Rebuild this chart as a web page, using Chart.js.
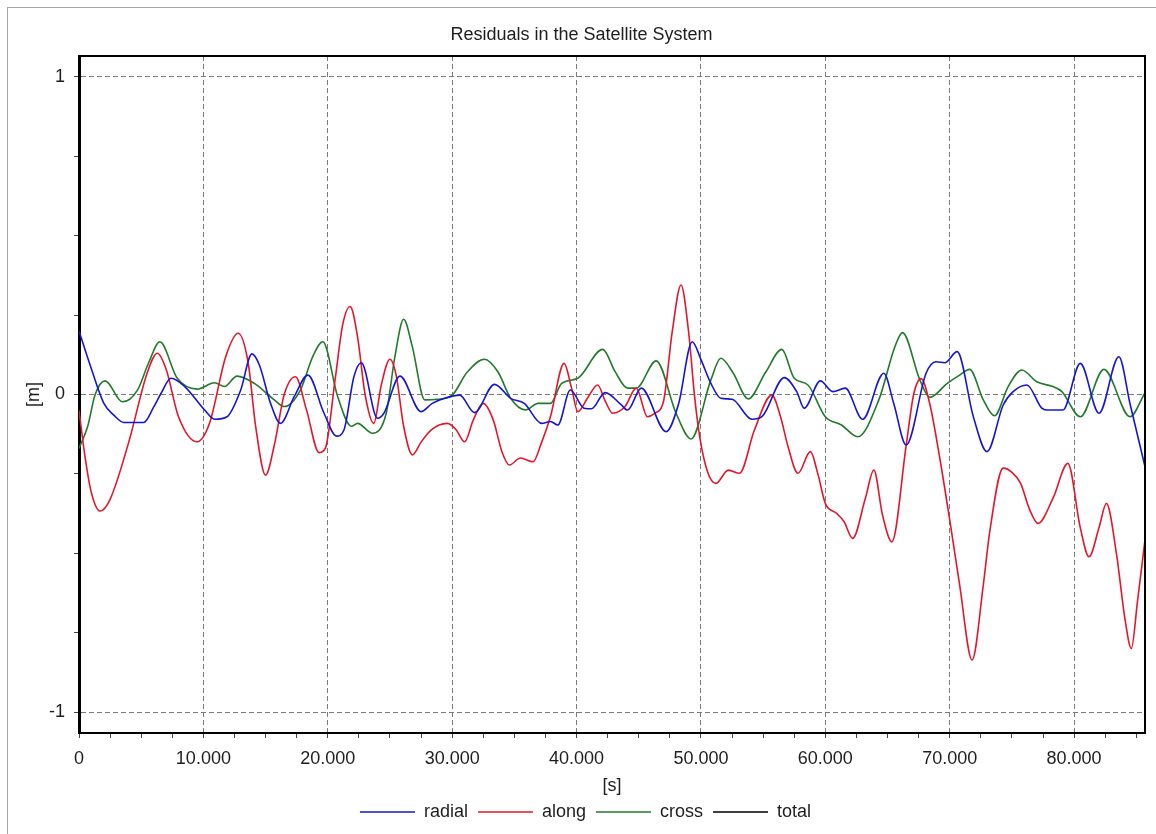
<!DOCTYPE html>
<html>
<head>
<meta charset="utf-8">
<script src="https://cdn.jsdelivr.net/npm/chart.js@4/dist/chart.umd.min.js"></script>
<style>
  html, body { margin: 0; padding: 0; background: #ffffff; }
  #wrap { position: relative; width: 1156px; height: 834px; overflow: hidden; background: #ffffff; }
  #frame { position: absolute; left: 7px; top: 7px; right: -2px; bottom: -2px; border-left: 1px solid #a6a6a6; border-top: 1px solid #a6a6a6; }
  canvas { position: absolute; left: 0; top: 0; }
</style>
</head>
<body>
<div id="wrap">
  <div id="frame"></div>
  <canvas id="c" width="1156" height="834"></canvas>
</div>
<script>
// ---- data (x in seconds, y in metres) ----
const chartTitle = 'Residuals in the Satellite System';
const seriesNames = ['radial', 'along', 'cross', 'total'];
const seriesColors = ['#1616d0', '#e4162c', '#237a2b', '#000000'];

const radialX = [0, 1000, 2000, 2800, 3600, 5200, 6000, 6600, 7400, 8500, 10100, 10900, 11900, 13000, 13900, 14500, 15400, 16200, 17300, 18400, 19700, 20700, 21300, 22100, 22700, 24000, 24500, 25800, 27500, 28400, 29400, 30600, 31800, 33400, 34700, 35800, 37200, 37900, 38500, 39500, 40600, 41200, 42300, 43600, 44100, 45200, 47200, 48200, 49300, 50000, 50800, 51600, 52500, 54100, 54900, 56700, 57700, 58300, 59600, 60600, 61600, 63000, 64700, 65500, 66500, 68100, 68900, 69600, 70600, 71900, 73000, 74300, 75100, 76200, 77400, 77800, 79100, 80500, 82000, 83600, 84500, 85700];
const radialY = [0.2, 0.08, -0.028, -0.065, -0.088, -0.088, -0.04, 0.004, 0.051, 0.025, -0.049, -0.078, -0.07, 0.014, 0.128, 0.093, -0.028, -0.091, -0.007, 0.061, -0.059, -0.131, -0.112, 0.056, 0.1, -0.075, -0.06, 0.058, -0.054, -0.028, -0.012, -0.002, -0.057, 0.032, -0.012, -0.028, -0.091, -0.085, -0.096, 0.014, -0.043, -0.045, 0.006, -0.033, -0.049, 0.02, -0.117, -0.03, 0.166, 0.11, 0.035, -0.012, -0.015, -0.078, -0.07, 0.053, 0.009, -0.043, 0.043, 0.009, 0.02, -0.078, 0.067, -0.028, -0.159, 0.067, 0.103, 0.1, 0.135, -0.07, -0.18, -0.033, 0.009, 0.03, -0.043, -0.049, -0.049, 0.098, -0.059, 0.119, -0.03, -0.227];

const alongX = [0, 500, 1000, 1700, 2500, 4000, 5500, 6300, 7000, 8000, 9500, 10500, 11800, 12800, 13600, 14200, 15000, 15700, 16500, 17400, 18300, 19300, 19800, 20600, 21200, 21800, 22400, 23000, 23700, 24300, 25000, 25500, 26100, 26800, 27500, 28300, 29600, 30300, 31000, 31700, 32500, 33300, 34000, 34600, 35500, 36500, 37200, 37900, 39000, 39600, 40100, 40900, 41700, 42300, 42900, 43900, 44800, 45700, 46300, 47000, 47700, 48400, 49000, 49500, 49900, 50500, 51200, 52200, 53100, 54300, 55700, 56400, 57000, 57800, 58800, 59400, 60000, 60900, 61500, 62200, 63200, 63900, 64600, 65350, 66500, 67100, 67700, 68400, 69200, 70000, 70800, 71800, 72700, 73200, 74300, 75000, 75700, 76400, 77100, 78300, 79500, 80500, 81200, 82000, 82600, 83400, 84100, 84600, 85100, 85700];
const alongY = [-0.05, -0.2, -0.31, -0.367, -0.33, -0.15, 0.07, 0.13, 0.08, -0.07, -0.149, -0.09, 0.12, 0.193, 0.1, -0.1, -0.254, -0.16, 0.0, 0.056, -0.05, -0.183, -0.17, 0.05, 0.22, 0.277, 0.18, 0.0, -0.091, 0.03, 0.111, 0.06, -0.1, -0.19, -0.15, -0.112, -0.091, -0.11, -0.149, -0.08, -0.028, -0.08, -0.18, -0.222, -0.2, -0.212, -0.15, -0.07, 0.098, 0.02, -0.054, -0.01, 0.03, -0.02, -0.059, -0.038, 0.02, -0.07, -0.059, -0.02, 0.2, 0.345, 0.2, -0.01, -0.133, -0.24, -0.28, -0.238, -0.248, -0.112, -0.002, -0.07, -0.164, -0.248, -0.18, -0.25, -0.343, -0.374, -0.4, -0.453, -0.33, -0.238, -0.38, -0.464, -0.16, 0.0, 0.05, -0.03, -0.2, -0.395, -0.6, -0.836, -0.6, -0.437, -0.232, -0.245, -0.28, -0.36, -0.406, -0.327, -0.217, -0.42, -0.511, -0.42, -0.343, -0.5, -0.71, -0.8, -0.65, -0.458];

const crossX = [0, 700, 1300, 2100, 3500, 4700, 5600, 6500, 7900, 9500, 10900, 11700, 12700, 14100, 15700, 16500, 17800, 18800, 19600, 20800, 21900, 22400, 23600, 24700, 25400, 26100, 26800, 27800, 28800, 30000, 31200, 32600, 33700, 34700, 35900, 36900, 37900, 38800, 40100, 42100, 43100, 44100, 44800, 46400, 48000, 49200, 50800, 51600, 52600, 53800, 55200, 56500, 57500, 58600, 60000, 61300, 62600, 64300, 65600, 66200, 67600, 68400, 69800, 70800, 71600, 72700, 73600, 74700, 75800, 77000, 78300, 79000, 80500, 82400, 84500, 85700];
const crossY = [-0.17, -0.1, 0.0, 0.043, -0.023, 0.014, 0.1, 0.166, 0.051, 0.017, 0.037, 0.025, 0.058, 0.035, -0.017, -0.038, 0.014, 0.12, 0.166, -0.007, -0.1, -0.091, -0.122, -0.059, 0.12, 0.237, 0.15, -0.017, -0.015, -0.002, 0.07, 0.111, 0.07, -0.012, -0.049, -0.028, -0.028, 0.035, 0.051, 0.142, 0.072, 0.02, 0.02, 0.106, -0.059, -0.14, 0.046, 0.114, 0.067, -0.014, 0.07, 0.142, 0.051, 0.03, -0.07, -0.096, -0.133, -0.017, 0.151, 0.195, 0.046, -0.009, 0.035, 0.061, 0.079, -0.017, -0.067, 0.025, 0.077, 0.04, 0.025, 0.01, -0.07, 0.079, -0.07, 0.006];

const totalX = [];
const totalY = [];

const xMin = 0, xMax = 85700;
const yMin = -1.066, yMax = 1.066;
const xTickValues = [0, 2500, 5000, 7500, 10000, 12500, 15000, 17500, 20000, 22500, 25000, 27500, 30000, 32500, 35000, 37500, 40000, 42500, 45000, 47500, 50000, 52500, 55000, 57500, 60000, 62500, 65000, 67500, 70000, 72500, 75000, 77500, 80000, 82500, 85000];
const xLabelValues = [0, 10000, 20000, 30000, 40000, 50000, 60000, 70000, 80000];
const yTickValues = [-1, -0.75, -0.5, -0.25, 0, 0.25, 0.5, 0.75, 1];
const yLabelValues = [-1, 0, 1];
const xAxisTitle = '[s]';
const yAxisTitle = '[m]';

// ---- helpers ----
function pts(xs, ys) { return xs.map((x, i) => ({x: x, y: ys[i]})); }
function fmtThousands(v) { return String(v).replace(/\B(?=(\d{3})+(?!\d))/g, '.'); }

const FONT = 'Liberation Sans, Arial, sans-serif';
const seriesData = [pts(radialX, radialY), pts(alongX, alongY), pts(crossX, crossY), pts(totalX, totalY)];

const datasets = seriesNames.map((name, i) => ({
  label: name,
  data: seriesData[i],
  borderColor: seriesColors[i],
  backgroundColor: seriesColors[i],
  borderWidth: 1.6,
  pointRadius: 0,
  pointHoverRadius: 0,
  pointStyle: 'line',
  fill: false,
  cubicInterpolationMode: 'monotone'
}));

const frameBorder = {
  id: 'frameBorder',
  afterDatasetsDraw(chart) {
    const a = chart.chartArea, ctx = chart.ctx;
    ctx.save();
    ctx.strokeStyle = '#000';
    ctx.lineWidth = 2;
    ctx.beginPath();
    ctx.moveTo(a.left, a.top);
    ctx.lineTo(a.right, a.top);
    ctx.lineTo(a.right, a.bottom);
    ctx.stroke();
    ctx.restore();
  }
};

const centerShift = {
  id: 'centerShift',
  afterLayout(chart) {
    if (chart.titleBlock) { chart.titleBlock.left += 9; chart.titleBlock.right += 9; }
    if (chart.legend) { chart.legend.left += 13; chart.legend.right += 13; }
  }
};

new Chart(document.getElementById('c'), {
  type: 'line',
  data: { datasets: datasets },
  plugins: [frameBorder, centerShift],
  options: {
    responsive: false,
    animation: false,
    devicePixelRatio: 1,
    layout: { padding: { left: 0, right: 11, top: 0, bottom: 3 } },
    plugins: {
      title: {
        display: true,
        text: chartTitle,
        color: '#1e1e1e',
        font: { family: FONT, size: 18, weight: 'normal' },
        padding: { top: 24, bottom: 10.4 }
      },
      legend: {
        display: true,
        position: 'bottom',
        labels: {
          usePointStyle: true,
          pointStyle: 'line',
          pointStyleWidth: 55,
          padding: 10,
          color: '#1e1e1e',
          font: { family: FONT, size: 18 }
        }
      },
      tooltip: { enabled: false }
    },
    scales: {
      x: {
        type: 'linear',
        min: xMin,
        max: xMax,
        afterBuildTicks: (scale) => { scale.ticks = xTickValues.map(v => ({ value: v })); },
        afterFit: (scale) => { scale.height = 60; },
        ticks: {
          autoSkip: false,
          maxRotation: 0,
          padding: 10,
          color: '#1e1e1e',
          font: { family: FONT, size: 18 },
          callback: (v) => xLabelValues.includes(v) ? fmtThousands(v) : ''
        },
        grid: {
          color: (ctx) => (ctx.tick && xLabelValues.includes(ctx.tick.value) && ctx.tick.value !== xMin) ? '#7a7a7a' : 'rgba(0,0,0,0)',
          lineWidth: 1,
          drawTicks: true,
          tickLength: 5,
          tickColor: '#444',
          tickWidth: 1
        },
        border: { display: true, color: '#000', width: 2, dash: [5, 3] },
        title: {
          display: true,
          text: xAxisTitle,
          color: '#1e1e1e',
          font: { family: FONT, size: 18 },
          padding: { top: 0, bottom: -4 }
        }
      },
      y: {
        type: 'linear',
        min: yMin,
        max: yMax,
        afterBuildTicks: (scale) => { scale.ticks = yTickValues.map(v => ({ value: v })); },
        afterFit: (scale) => { scale.width = 79; },
        ticks: {
          autoSkip: false,
          padding: 9,
          color: '#1e1e1e',
          font: { family: FONT, size: 18 },
          callback: (v) => yLabelValues.includes(v) ? String(v) : ''
        },
        grid: {
          color: (ctx) => (ctx.tick && yLabelValues.includes(ctx.tick.value)) ? '#7a7a7a' : 'rgba(0,0,0,0)',
          lineWidth: 1,
          drawTicks: true,
          tickLength: 5,
          tickColor: '#444',
          tickWidth: 1
        },
        border: { display: true, color: '#000', width: 3, dash: [5, 3] },
        title: {
          display: true,
          text: yAxisTitle,
          color: '#1e1e1e',
          font: { family: FONT, size: 18 },
          padding: { top: 23, bottom: 0 }
        }
      }
    }
  }
});
</script>
</body>
</html>
